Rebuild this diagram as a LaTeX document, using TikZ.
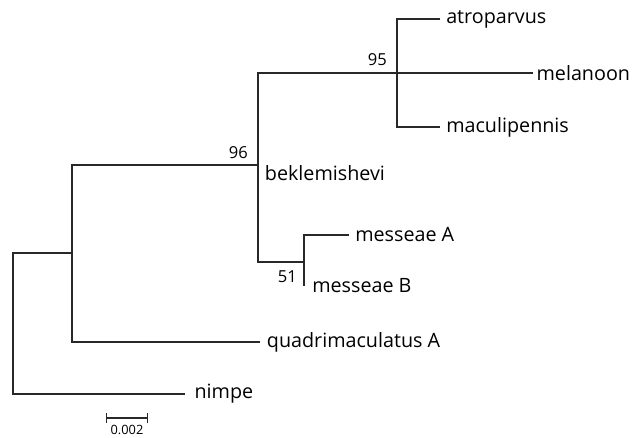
\documentclass[tikz,border=0pt]{standalone}
\usepackage{fontspec}
\setmainfont{Open Sans}
\usepackage{xcolor}

\tikzset{
  branch/.style={color={rgb, 255:red, 40; green, 40; blue, 40 }, line width=0.95pt},
  leaf/.style={anchor=west, inner xsep=4.5pt, inner ysep=0pt, font=\fontsize{14.8}{17}\selectfont},
  boot/.style={anchor=south east, inner sep=0.75pt, font=\fontsize{12.4}{14}\selectfont}
}

\begin{document}
\begin{tikzpicture}[x=0.75pt,y=0.75pt,yscale=-1,xscale=1]
\useasboundingbox (0,0) rectangle (635,437);

%inner nodes of the tree
\coordinate (root) at (13,323);
\coordinate (nq) at (72,253);
\coordinate (n96) at (258,165);
\coordinate (n95) at (397,73);
\coordinate (n51) at (304,262);

% Text Node
\node [leaf] (atro) at (440,19) {atroparvus};
\node [leaf, inner xsep=2.5pt] (mela) at (533,73) {melanoon};
\node [leaf] (macu) at (440,127) {maculipennis};
\node [leaf, inner xsep=5pt] (bekl) at (258,173) {beklemishevi};
\node [leaf] (messa) at (349,235) {messeae A};
\node [leaf, inner xsep=6pt] (messb) at (304,286) {messeae B};
\node [leaf, inner xsep=5pt] (quad) at (260,342) {quadrimaculatus A};
\node [leaf, inner xsep=7pt] (nimp) at (185,394) {nimpe};

%Branches
\draw [branch] (root) |- (nq);
\draw [branch] (root) |- (nimp.west);
\draw [branch] (nq) |- (n96);
\draw [branch] (nq) |- (quad.west);
\draw [branch] (n96) |- (n95);
\draw [branch] (n96) |- (bekl.west);
\draw [branch] (n96) |- (n51);
\draw [branch] (n95) |- (atro.west);
\draw [branch] (n95) |- (mela.west);
\draw [branch] (n95) |- (macu.west);
\draw [branch] (n51) |- (messa.west);
\draw [branch] (n51) |- (messb.west);

% Bootstrap values
\node [boot] (b96) at (249,160) {96};
\node [boot] (b95) at (388,67) {95};
\node [boot, anchor=east] (b51) at (298,277) {51};

%Scale bar
\coordinate (sbl) at (106,418);
\coordinate (sbr) at (148,418);
\draw [branch, line width=0.8pt, |-|] (sbl) -- (sbr);
\node [inner sep=0.75pt, font=\fontsize{9.6}{11}\selectfont] (sblab) at (127,430) {0.002};

\end{tikzpicture}
\end{document}
